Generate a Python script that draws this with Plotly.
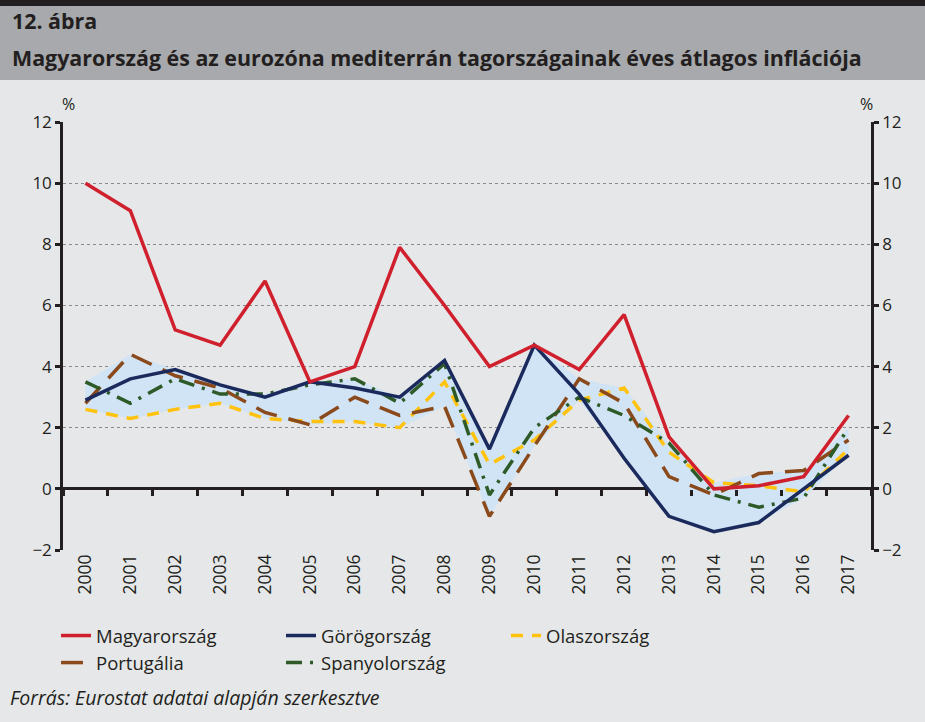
import plotly.graph_objects as go
import numpy as np

years = [str(y) for y in range(2000, 2018)]
hungary  = [10.0, 9.1, 5.2, 4.7, 6.8, 3.5, 4.0, 7.9, 6.0, 4.0, 4.7, 3.9, 5.7, 1.7, 0.0, 0.1, 0.4, 2.4]
greece   = [2.9, 3.6, 3.9, 3.4, 3.0, 3.5, 3.3, 3.0, 4.2, 1.3, 4.7, 3.1, 1.0, -0.9, -1.4, -1.1, 0.0, 1.1]
italy    = [2.6, 2.3, 2.6, 2.8, 2.3, 2.2, 2.2, 2.0, 3.5, 0.8, 1.6, 2.9, 3.3, 1.2, 0.2, 0.1, -0.1, 1.3]
portugal = [2.8, 4.4, 3.7, 3.3, 2.5, 2.1, 3.0, 2.4, 2.7, -0.9, 1.4, 3.6, 2.8, 0.4, -0.2, 0.5, 0.6, 1.6]
spain    = [3.5, 2.8, 3.6, 3.1, 3.1, 3.4, 3.6, 2.8, 4.1, -0.2, 2.0, 3.0, 2.4, 1.5, -0.2, -0.6, -0.3, 2.0]
y_ticks = [-2, 0, 2, 4, 6, 8, 10, 12]

W, H = 925, 722
L, R, T, B = 63, 871, 122, 550
FONT = "Open Sans, sans-serif"
TXT = "#231f20"

def px(X):
    return (X - L) / (R - L)

def py(Y):
    return (B - Y) / (B - T)

euro = np.array([greece, italy, portugal, spain])
band_hi = euro.max(axis=0)
band_lo = euro.min(axis=0)

fig = go.Figure()
fig.add_trace(go.Scatter(x=years, y=band_lo, mode="lines", line=dict(width=0),
                         showlegend=False, hoverinfo="skip"))
fig.add_trace(go.Scatter(x=years, y=band_hi, mode="lines", line=dict(width=0),
                         fill="tonexty", fillcolor="#d0e4f6", showlegend=False, hoverinfo="skip"))

series = [
    ("Olaszország", italy, "#ffc20e", "12px,9px"),
    ("Portugália", portugal, "#8b4a1c", "22px,12px"),
    ("Spanyolország", spain, "#2e5a27", "16px,8px,3px,8px"),
    ("Görögország", greece, "#1b2a5c", "solid"),
    ("Magyarország", hungary, "#d0202e", "solid"),
]
ranks = {"Magyarország": 1, "Görögország": 2, "Olaszország": 3, "Portugália": 4, "Spanyolország": 5}
for name, vals, col, dash in series:
    fig.add_trace(go.Scatter(x=years, y=vals, mode="lines", name=name,
                             line=dict(color=col, width=3.5, dash=dash),
                             legendrank=ranks[name]))

# invisible trace for right axis
fig.add_trace(go.Scatter(x=years, y=hungary, yaxis="y2", mode="lines",
                         line=dict(width=0), showlegend=False, hoverinfo="skip", opacity=0))
# invisible trace on xaxis2 so boundary ticks appear on the zero line
fig.add_trace(go.Scatter(x=years, y=greece, xaxis="x2", mode="lines", line=dict(width=0),
                         showlegend=False, hoverinfo="skip", opacity=0))

axis_common = dict(range=[-2, 12], tickvals=y_ticks, showline=True, linewidth=2.5,
                   linecolor=TXT, ticks="outside", ticklen=5, tickwidth=2.5, tickcolor=TXT,
                   tickfont=dict(family=FONT, size=17, color=TXT), fixedrange=True)

fig.update_layout(
    width=W, height=H,
    margin=dict(l=L, r=W - R, t=T, b=H - B),
    paper_bgcolor="#e6e7e8", plot_bgcolor="#e6e7e8",
    font=dict(family=FONT, size=17, color=TXT),
    xaxis=dict(type="category", range=[-0.5, 17.5], showgrid=False, showline=False,
               ticks="", tickangle=-90, tickfont=dict(family=FONT, size=17.5, color=TXT),
               zeroline=False, fixedrange=True),
    xaxis2=dict(type="category", range=[-0.5, 17.5], overlaying="x", anchor="free",
                position=2 / 14, showgrid=False, showline=False,
                showticklabels=False, ticks="outside", tickson="boundaries",
                ticklen=6, tickwidth=2.5, tickcolor=TXT, categoryorder="array",
                categoryarray=years, fixedrange=True),
    yaxis=dict(**axis_common, showgrid=True, gridcolor="#8a8a8a", gridwidth=1.2,
               griddash="dot", side="left", zeroline=True, zerolinecolor=TXT,
               zerolinewidth=2.5),
    yaxis2=dict(**axis_common, overlaying="y", side="right", showgrid=False, zeroline=False),
    legend=dict(orientation="h", x=px(56), y=py(617), xanchor="left", yanchor="top",
                entrywidth=180, entrywidthmode="pixels", bgcolor="rgba(0,0,0,0)",
                font=dict(family=FONT, size=18.5, color=TXT), traceorder="normal"),
    showlegend=True,
)

shapes = [
    dict(type="rect", xref="paper", yref="paper", x0=px(0), x1=px(W), y0=py(80), y1=py(6),
         fillcolor="#a7a9ac", line=dict(width=0), layer="below"),
    dict(type="rect", xref="paper", yref="paper", x0=px(0), x1=px(W), y0=py(6), y1=py(0),
         fillcolor="#231f20", line=dict(width=0), layer="below"),
]
fig.update_layout(shapes=shapes)

ann = [
    dict(text="<b>12. ábra</b>", x=px(10), y=py(21), xanchor="left", yanchor="middle",
         font=dict(family=FONT, size=21.4, color=TXT)),
    dict(text="<b>Magyarország és az eurozóna mediterrán tagországainak éves átlagos inflációja</b>",
         x=px(10), y=py(57), xanchor="left", yanchor="middle",
         font=dict(family=FONT, size=21.4, color=TXT)),
    dict(text="%", x=px(68), y=py(104), xanchor="center", yanchor="middle",
         font=dict(family=FONT, size=16, color=TXT)),
    dict(text="%", x=px(866), y=py(104), xanchor="center", yanchor="middle",
         font=dict(family=FONT, size=16, color=TXT)),
    dict(text="<i>Forrás: Eurostat adatai alapján szerkesztve</i>", x=px(8), y=py(697),
         xanchor="left", yanchor="middle", font=dict(family=FONT, size=19.5, color=TXT)),
]
for a in ann:
    a.update(xref="paper", yref="paper", showarrow=False)
fig.update_layout(annotations=ann)

fig.write_html("out.html", config={"displayModeBar": False},
               post_script="document.body.style.margin='0';")
